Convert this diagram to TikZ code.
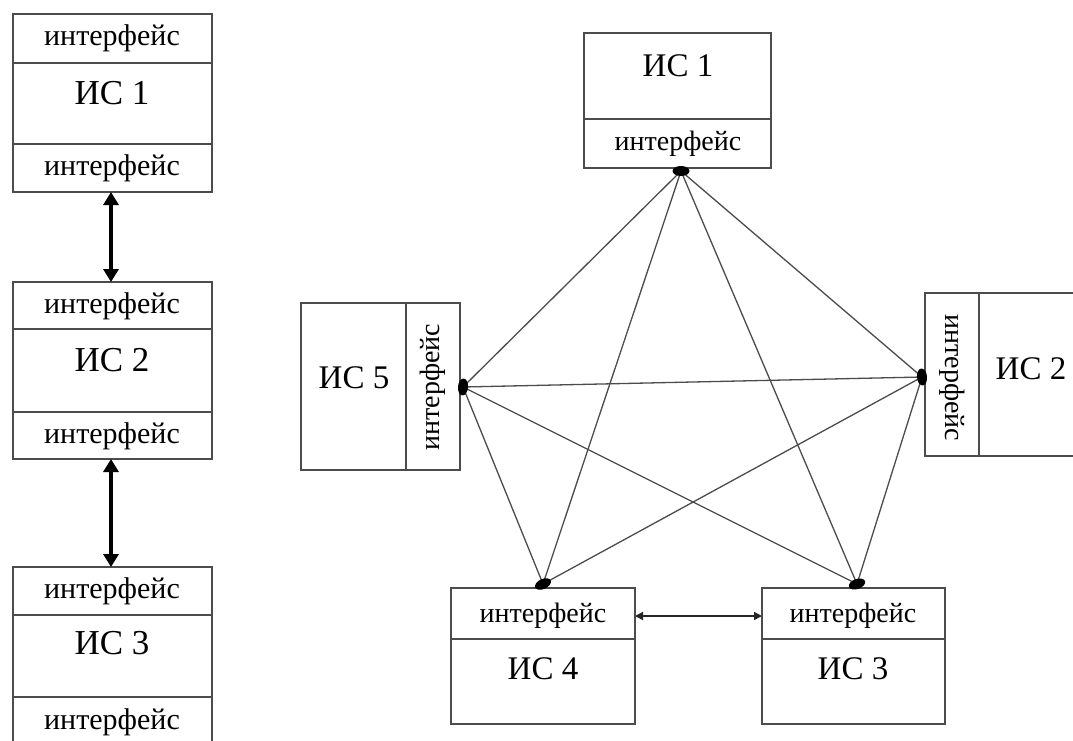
\documentclass[tikz,border=0pt]{standalone}
\usepackage{fontspec}
\setmainfont{Liberation Serif}
\usetikzlibrary{shapes.geometric,arrows.meta}
\begin{document}
\begin{tikzpicture}[x=1pt,y=-1pt,
  box/.style={draw=black!70, line width=1.4pt, anchor=north west, inner sep=0pt, outer sep=0pt},
  divl/.style={draw=black!70, line width=1.4pt},
  ifl/.style={font=\fontsize{30}{30}\selectfont, inner sep=0pt},
  ifr/.style={font=\fontsize{28}{28}\selectfont, inner sep=0pt},
  isl/.style={font=\fontsize{35}{35}\selectfont, inner sep=0pt},
  isr/.style={font=\fontsize{33}{33}\selectfont, inner sep=0pt},
  link/.style={draw=black!70, line width=1.3pt},
  dotn/.style={ellipse, fill=black, inner sep=0pt, minimum width=17pt, minimum height=10pt},
  bigarrow/.style={draw=black, line width=3.6pt, {Triangle[length=13pt,width=15pt]}-{Triangle[length=13pt,width=15pt]}},
  smallarrow/.style={draw=black!85, line width=1.4pt, {Triangle[length=8pt,width=8pt]}-{Triangle[length=8pt,width=8pt]}}
]
\clip (0,0) rectangle (1073,740);
\fill[white] (0,0) rectangle (1073,740);

% ---------- left chain ----------
\node[box, minimum width=199pt, minimum height=178pt] (L1) at (13,14) {};
\draw[divl] (13,63) -- (212,63);
\draw[divl] (13,144) -- (212,144);
\node[ifl] (L1a) at (112,38) {интерфейс};
\node[isl] (L1t) at (112,93) {ИС 1};
\node[ifl] (L1b) at (112,168) {интерфейс};

\node[box, minimum width=199pt, minimum height=177pt] (L2) at (13,282) {};
\draw[divl] (13,329) -- (212,329);
\draw[divl] (13,412) -- (212,412);
\node[ifl] (L2a) at (112,306) {интерфейс};
\node[isl] (L2t) at (112,360) {ИС 2};
\node[ifl] (L2b) at (112,436) {интерфейс};

\node[box, minimum width=199pt, minimum height=190pt] (L3) at (13,567) {};
\draw[divl] (13,615) -- (212,615);
\draw[divl] (13,697) -- (212,697);
\node[ifl] (L3a) at (112,591) {интерфейс};
\node[isl] (L3t) at (112,643) {ИС 3};
\node[ifl] (L3b) at (112,722) {интерфейс};

\draw[bigarrow] (L1.south -| 111,0) -- (L2.north -| 111,0);
\draw[bigarrow] (L2.south -| 111,0) -- (L3.north -| 111,0);

% ---------- right network ----------
% IS 1
\node[box, minimum width=187pt, minimum height=135pt] (R1) at (584,33) {};
\draw[divl] (584,119) -- (771,119);
\node[isr] (R1t) at (678,66) {ИС 1};
\node[ifr] (R1i) at (678,144) {интерфейс};
% IS 5
\node[box, minimum width=159pt, minimum height=167pt] (R5) at (301,303) {};
\draw[divl] (406,303) -- (406,470);
\node[isr] (R5t) at (354,378) {ИС 5};
\node[ifr, rotate=90] (R5i) at (433,387) {интерфейс};
% IS 2
\node[box, minimum width=160pt, minimum height=163pt] (R2) at (925,293) {};
\draw[divl] (979,293) -- (979,456);
\node[isr] (R2t) at (1031,369) {ИС 2};
\node[ifr, rotate=-90] (R2i) at (952,378) {интерфейс};
% IS 4
\node[box, minimum width=184pt, minimum height=136pt] (R4) at (451,588) {};
\draw[divl] (451,639) -- (635,639);
\node[ifr] (R4i) at (543,616) {интерфейс};
\node[isr] (R4t) at (543,669) {ИС 4};
% IS 3
\node[box, minimum width=183pt, minimum height=136pt] (R3) at (762,588) {};
\draw[divl] (762,639) -- (945,639);
\node[ifr] (R3i) at (853,616) {интерфейс};
\node[isr] (R3t) at (853,669) {ИС 3};

% connection points
\coordinate (p1) at (681,171);
\coordinate (p2) at (922,377);
\coordinate (p3) at (857,584);
\coordinate (p4) at (543,584);
\coordinate (p5) at (463,387);

\draw[link] (p1) -- (p2);
\draw[link] (p1) -- (p3);
\draw[link] (p1) -- (p4);
\draw[link] (p1) -- (p5);
\draw[link] (p5) -- (p2);
\draw[link] (p5) -- (p3);
\draw[link] (p5) -- (p4);
\draw[link] (p2) -- (p3);
\draw[link] (p2) -- (p4);

\node[dotn] (d1) at (p1) {};
\node[dotn, rotate=95] (d2) at (p2) {};
\node[dotn, rotate=20] (d3) at (p3) {};
\node[dotn, rotate=25] (d4) at (p4) {};
\node[dotn, rotate=85] (d5) at (p5) {};

\draw[smallarrow] (R4.east |- R4i) -- (R3.west |- R3i);
\end{tikzpicture}
\end{document}
